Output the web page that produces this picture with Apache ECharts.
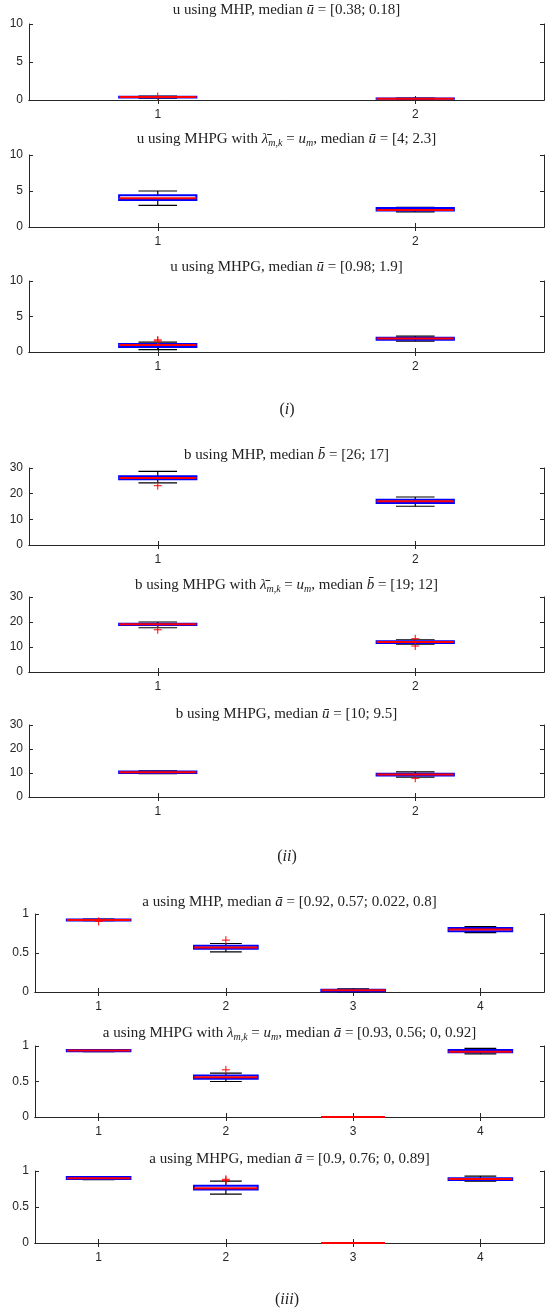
<!DOCTYPE html>
<html>
<head>
<meta charset="utf-8">
<script src="https://cdn.jsdelivr.net/npm/echarts@6/dist/echarts.min.js"></script>
<style>
  html, body { margin: 0; padding: 0; background: #fff; }
  #chart { width: 545px; height: 1315px; }
</style>
</head>
<body>
<div id="chart"></div>
<script>
// categories
var catsTwo = ["1", "2"];
var catsFour = ["1", "2", "3", "4"];

// box values per category: [min, q1, median, q3, max]
var uMHP = [[0.25, 0.33, 0.38, 0.43, 0.5], [0.12, 0.16, 0.18, 0.2, 0.24]];
var uMHPGlam = [[3.0, 3.75, 4.0, 4.4, 5.0], [2.1, 2.3, 2.35, 2.65, 2.72]];
var uMHPG = [[0.33, 0.72, 0.98, 1.14, 1.38], [1.52, 1.72, 1.9, 2.0, 2.24]];
var bMHP = [[24.2, 25.6, 26.1, 26.8, 28.7], [15.1, 16.4, 17.0, 17.6, 18.7]];
var bMHPGlam = [[17.7, 18.8, 19.1, 19.3, 20.0], [11.1, 11.6, 12.0, 12.3, 12.9]];
var bMHPG = [[9.7, 10.0, 10.3, 10.6, 10.9], [8.3, 9.0, 9.4, 9.7, 10.5]];
var aMHP = [[0.915, 0.918, 0.922, 0.93, 0.935], [0.515, 0.554, 0.57, 0.592, 0.622],
            [0, 0.01, 0.022, 0.03, 0.04], [0.76, 0.78, 0.8, 0.82, 0.837]];
var aMHPGlam = [[0.92, 0.925, 0.935, 0.945, 0.95], [0.5, 0.537, 0.56, 0.584, 0.617],
                [0, 0, 0, 0, 0], [0.888, 0.911, 0.92, 0.944, 0.967]];
var aMHPG = [[0.88, 0.89, 0.9, 0.915, 0.92], [0.679, 0.743, 0.76, 0.794, 0.858],
             [0, 0, 0, 0, 0], [0.858, 0.876, 0.89, 0.9, 0.93]];

// outliers: [category index, value]
var uMHPOut = [[0, 0.45]];
var uMHPGlamOut = [];
var uMHPGOut = [[0, 1.55], [0, 1.7]];
var bMHPOut = [[0, 23.1]];
var bMHPGlamOut = [[0, 16.9], [1, 13.3], [1, 10.4]];
var bMHPGOut = [[1, 7.8]];
var aMHPOut = [[0, 0.905], [1, 0.665]];
var aMHPGlamOut = [[1, 0.664]];
var aMHPGOut = [[1, 0.87], [1, 0.885]];

// y ticks
var uTicks = [0, 10, 5];   // min, max, step
var bTicks = [0, 30, 10];
var aTicks = [0, 1, 0.5];

var titles = [
  "{r|u using MHP, median }{i|\u016b}{r| = [0.38; 0.18]}",
  "{r|u using MHPG with }{i|\u03bb\u0304}{s|m,k}{r| = }{i|u}{s|m}{r|, median }{i|\u016b}{r| = [4; 2.3]}",
  "{r|u using MHPG, median }{i|\u016b}{r| = [0.98; 1.9]}",
  "{r|b using MHP, median }{i|b\u0304}{r| = [26; 17]}",
  "{r|b using MHPG with }{i|\u03bb\u0304}{s|m,k}{r| = }{i|u}{s|m}{r|, median }{i|b\u0304}{r| = [19; 12]}",
  "{r|b using MHPG, median }{i|\u016b}{r| = [10; 9.5]}",
  "{r|a using MHP, median }{i|\u0101}{r| = [0.92, 0.57; 0.022, 0.8]}",
  "{r|a using MHPG with }{i|\u03bb}{s|m,k}{r| = }{i|u}{s|m}{r|, median }{i|\u0101}{r| = [0.93, 0.56; 0, 0.92]}",
  "{r|a using MHPG, median }{i|\u0101}{r| = [0.9, 0.76; 0, 0.89]}"
];
var groupLabels = ["{p|(}{i|i}{p|)}", "{p|(}{i|ii}{p|)}", "{p|(}{i|iii}{p|)}"];

var panels = [
  { cats: catsTwo, boxes: uMHP, out: uMHPOut, ticks: uTicks },
  { cats: catsTwo, boxes: uMHPGlam, out: uMHPGlamOut, ticks: uTicks },
  { cats: catsTwo, boxes: uMHPG, out: uMHPGOut, ticks: uTicks },
  { cats: catsTwo, boxes: bMHP, out: bMHPOut, ticks: bTicks },
  { cats: catsTwo, boxes: bMHPGlam, out: bMHPGlamOut, ticks: bTicks },
  { cats: catsTwo, boxes: bMHPG, out: bMHPGOut, ticks: bTicks },
  { cats: catsFour, boxes: aMHP, out: aMHPOut, ticks: aTicks },
  { cats: catsFour, boxes: aMHPGlam, out: aMHPGlamOut, ticks: aTicks },
  { cats: catsFour, boxes: aMHPG, out: aMHPGOut, ticks: aTicks }
];

// layout (pixels)
var gridTop = [24, 155, 281, 468, 597, 725, 914, 1046, 1171];
var gridHeight = [76, 72, 71, 77, 75, 72, 78, 71, 72];
var gridLeft = [29, 29, 29, 29, 29, 29, 35, 35, 35];
var titleY = [10, 139, 267, 455, 585, 714, 902, 1033, 1159];
var groupY = [412, 859, 1302];
var boxFrac = [0.3, 0.3, 0.3, 0.3, 0.3, 0.3, 0.5, 0.5, 0.5];

var ink = "#262626";
var serif = "'Liberation Serif', 'DejaVu Serif', serif";
var sans = "'Liberation Sans', Arial, sans-serif";

function boxRenderer(frac) {
  return function (params, api) {
    var c = api.value(0);
    var band = api.size([1, 0])[0];
    var hw = band * frac / 2, cw = hw / 2;
    var x = api.coord([c, api.value(3)])[0];
    var yMin = api.coord([c, api.value(1)])[1];
    var yQ1 = api.coord([c, api.value(2)])[1];
    var yMed = api.coord([c, api.value(3)])[1];
    var yQ3 = api.coord([c, api.value(4)])[1];
    var yMax = api.coord([c, api.value(5)])[1];
    var black = { stroke: "#000", lineWidth: 1.2 };
    return {
      type: "group",
      children: [
        { type: "line", shape: { x1: x, y1: yMax, x2: x, y2: yQ3 }, style: black },
        { type: "line", shape: { x1: x, y1: yQ1, x2: x, y2: yMin }, style: black },
        { type: "line", shape: { x1: x - cw, y1: yMax, x2: x + cw, y2: yMax }, style: black },
        { type: "line", shape: { x1: x - cw, y1: yMin, x2: x + cw, y2: yMin }, style: black },
        { type: "rect", shape: { x: x - hw, y: yQ3, width: 2 * hw, height: yQ1 - yQ3 },
          style: { fill: "none", stroke: "#0000ff", lineWidth: 2 } },
        { type: "line", shape: { x1: x - hw, y1: yMed, x2: x + hw, y2: yMed },
          style: { stroke: "#ff0000", lineWidth: 2 } }
      ]
    };
  };
}

function plusRenderer(params, api) {
  var p = api.coord([api.value(0), api.value(1)]);
  var s = 4;
  var red = { stroke: "#ff0000", lineWidth: 1 };
  return {
    type: "group",
    children: [
      { type: "line", shape: { x1: p[0] - s, y1: p[1], x2: p[0] + s, y2: p[1] }, style: red },
      { type: "line", shape: { x1: p[0], y1: p[1] - s, x2: p[0], y2: p[1] + s }, style: red }
    ]
  };
}

var titleRich = {
  r: { fontFamily: serif, fontSize: 15, fontWeight: "normal", color: "#222", lineHeight: 18 },
  i: { fontFamily: serif, fontSize: 15, fontWeight: "normal", fontStyle: "italic", color: "#222", lineHeight: 18 },
  s: { fontFamily: serif, fontSize: 10, fontWeight: "normal", fontStyle: "italic", color: "#222", lineHeight: 10,
       padding: [6, 0, 0, 0], verticalAlign: "bottom" }
};
var groupRich = {
  p: { fontFamily: serif, fontSize: 16, fontWeight: "normal", color: "#222" },
  i: { fontFamily: serif, fontSize: 16, fontWeight: "normal", fontStyle: "italic", color: "#222" }
};

var grids = [], xAxes = [], yAxes = [], series = [], titleList = [];
var axisLine = { show: true, lineStyle: { color: ink, width: 1 } };
var tick = { show: true, inside: true, length: 4, lineStyle: { color: ink } };

panels.forEach(function (pn, k) {
  grids.push({ left: gridLeft[k], right: 1, top: gridTop[k], height: gridHeight[k] });
  var center = gridLeft[k] + (545 - 1 - gridLeft[k]) / 2;
  titleList.push({ text: titles[k], left: center, top: titleY[k] - 9, textAlign: "center",
                   padding: 0, textStyle: { fontWeight: "normal", rich: titleRich } });

  xAxes.push({ type: "category", gridIndex: k, data: pn.cats, position: "bottom",
               axisLine: axisLine, axisTick: Object.assign({ alignWithLabel: true }, tick),
               axisLabel: { color: ink, fontFamily: sans, fontSize: 12, margin: 9 },
               splitLine: { show: false } });
  xAxes.push({ type: "category", gridIndex: k, data: pn.cats, position: "top",
               axisLine: axisLine, axisTick: Object.assign({ alignWithLabel: true }, tick),
               axisLabel: { show: false }, splitLine: { show: false } });
  yAxes.push({ type: "value", gridIndex: k, position: "left",
               min: pn.ticks[0], max: pn.ticks[1], interval: pn.ticks[2],
               axisLine: axisLine, axisTick: tick,
               axisLabel: { color: ink, fontFamily: sans, fontSize: 12, margin: 6 },
               splitLine: { show: false } });
  yAxes.push({ type: "value", gridIndex: k, position: "right",
               min: pn.ticks[0], max: pn.ticks[1], interval: pn.ticks[2],
               axisLine: axisLine, axisTick: tick,
               axisLabel: { show: false }, splitLine: { show: false } });

  series.push({
    type: "custom", xAxisIndex: 2 * k, yAxisIndex: 2 * k,
    renderItem: boxRenderer(boxFrac[k]),
    encode: { x: 0, y: [1, 2, 3, 4, 5] },
    data: pn.boxes.map(function (b, i) { return [i].concat(b); }),
    z: 3
  });
  series.push({
    type: "custom", xAxisIndex: 2 * k, yAxisIndex: 2 * k,
    renderItem: plusRenderer,
    encode: { x: 0, y: 1 },
    data: pn.out,
    z: 4
  });
});

groupLabels.forEach(function (g, j) {
  titleList.push({ text: g, left: 287, top: groupY[j] - 10, textAlign: "center",
                   padding: 0, textStyle: { fontWeight: "normal", rich: groupRich } });
});

var chart = echarts.init(document.getElementById("chart"));
chart.setOption({
  animation: false,
  backgroundColor: "#fff",
  title: titleList,
  grid: grids,
  xAxis: xAxes,
  yAxis: yAxes,
  series: series
});
</script>
</body>
</html>
